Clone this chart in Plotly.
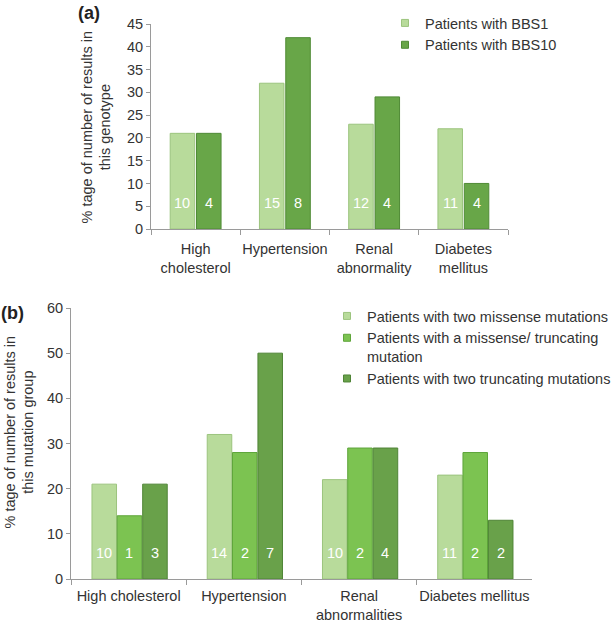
import plotly.graph_objects as go

# ---------------- data ----------------
cats_a = ["High<br>cholesterol", "Hypertension", "Renal<br>abnormality", "Diabetes<br>mellitus"]
bbs1_pct = [21, 32, 23, 22]
bbs10_pct = [21, 42, 29, 10]
bbs1_n = [10, 15, 12, 11]
bbs10_n = [4, 8, 4, 4]

cats_b = ["High cholesterol", "Hypertension", "Renal<br>abnormalities", "Diabetes mellitus"]
mis_mis_pct = [21, 32, 22, 23]
mis_trunc_pct = [14, 28, 29, 28]
trunc_trunc_pct = [21, 50, 29, 13]
mis_mis_n = [10, 14, 10, 11]
mis_trunc_n = [1, 2, 2, 2]
trunc_trunc_n = [3, 7, 4, 2]

names_a = ["Patients with BBS1", "Patients with BBS10"]
names_b = ["Patients with two missense mutations",
           "Patients with a missense/ truncating<br>mutation",
           "Patients with two truncating mutations"]

# ---------------- style ----------------
OFF = 0                      # body margin is removed below
W, H = 615 - OFF, 622 - OFF
FONT = "Liberation Sans, Arial, Helvetica, sans-serif"
FS = 14.5
TXT = "#333333"
AX = "#9a9a9a"
LIGHT = "#b8db9b"
LIGHT_L = "#9cc47e"
DARK = "#68a648"
DARK_L = "#4f8a35"
MID = "#7cc351"
MID_L = "#5ea53a"
DARK_B = "#69a14a"
DARK_B_L = "#4f8436"

def px(x):
    return (x - OFF) / W

def py(y):
    return 1 - (y - OFF) / H

ax_a = dict(x0=151, x1=508, y0=24, y1=229)
ax_b = dict(x0=71, x1=532, y0=308, y1=579)

def dom_x(a):
    return [px(a["x0"]), px(a["x1"])]

def dom_y(a):
    return [py(a["y1"]), py(a["y0"])]

fig = go.Figure()

w_a = 0.275
off_a = [-0.285, 0.01]
series_a = [(bbs1_pct, bbs1_n, LIGHT, LIGHT_L), (bbs10_pct, bbs10_n, DARK, DARK_L)]
for (vals, ns, col, lc), off, nm in zip(series_a, off_a, names_a):
    fig.add_trace(go.Bar(x=cats_a, y=vals, width=w_a, offset=off,
                         marker=dict(color=col, line=dict(color=lc, width=1)),
                         xaxis="x", yaxis="y", showlegend=False, name=nm))
    fig.add_trace(go.Scatter(x=[None], y=[None], mode="markers", name=nm,
                             marker=dict(symbol="square", size=7, color=col,
                                         line=dict(color=lc, width=1)),
                             xaxis="x", yaxis="y", legend="legend"))

w_b = 0.213
off_b = [-0.318, -0.099, 0.122]
series_b = [(mis_mis_pct, mis_mis_n, LIGHT, LIGHT_L),
            (mis_trunc_pct, mis_trunc_n, MID, MID_L),
            (trunc_trunc_pct, trunc_trunc_n, DARK_B, DARK_B_L)]
for (vals, ns, col, lc), off, nm in zip(series_b, off_b, names_b):
    fig.add_trace(go.Bar(x=cats_b, y=vals, width=w_b, offset=off,
                         marker=dict(color=col, line=dict(color=lc, width=1)),
                         xaxis="x2", yaxis="y2", showlegend=False, name=nm))
    fig.add_trace(go.Scatter(x=[None], y=[None], mode="markers", name=nm,
                             marker=dict(symbol="square", size=7, color=col,
                                         line=dict(color=lc, width=1)),
                             xaxis="x2", yaxis="y2", legend="legend2"))

annotations = []
catw_a = (ax_a["x1"] - ax_a["x0"]) / len(cats_a)
for (vals, ns, col, lc), off in zip(series_a, off_a):
    for c, n in zip(cats_a, ns):
        annotations.append(dict(x=c, y=0, xref="x", yref="y", text=str(n),
                                showarrow=False, yanchor="middle",
                                xshift=(off + w_a / 2) * catw_a, yshift=26,
                                font=dict(color="white", size=FS, family=FONT)))
catw_b = (ax_b["x1"] - ax_b["x0"]) / len(cats_b)
for (vals, ns, col, lc), off in zip(series_b, off_b):
    for c, n in zip(cats_b, ns):
        annotations.append(dict(x=c, y=0, xref="x2", yref="y2", text=str(n),
                                showarrow=False, yanchor="middle",
                                xshift=(off + w_b / 2) * catw_b, yshift=26,
                                font=dict(color="white", size=FS, family=FONT)))

annotations.append(dict(x=px(95.5), y=py(127), xref="paper", yref="paper",
                        text="% tage of number of results in<br>this genotype",
                        textangle=-90, showarrow=False, xanchor="center", yanchor="middle",
                        font=dict(size=FS, color=TXT, family=FONT)))
annotations.append(dict(x=px(18.5), y=py(432), xref="paper", yref="paper",
                        text="% tage of number of results in<br>this mutation group",
                        textangle=-90, showarrow=False, xanchor="center", yanchor="middle",
                        font=dict(size=FS, color=TXT, family=FONT)))
annotations.append(dict(x=px(76), y=py(13), xref="paper", yref="paper",
                        text="<b>(a)</b>", showarrow=False, xanchor="left", yanchor="middle",
                        font=dict(size=18, color="#222222", family=FONT)))
annotations.append(dict(x=px(-1), y=py(313), xref="paper", yref="paper",
                        text="<b>(b)</b>", showarrow=False, xanchor="left", yanchor="middle",
                        font=dict(size=18, color="#222222", family=FONT)))

xcommon = dict(type="category", showgrid=False, showline=True, linecolor=AX, linewidth=1,
               ticks="outside", tickson="boundaries", ticklen=5, tickcolor=AX,
               tickfont=dict(size=FS, color=TXT, family=FONT), zeroline=False,
               tickangle=0, automargin=False, fixedrange=True)
ycommon = dict(showgrid=False, showline=True, linecolor=AX, linewidth=1,
               ticks="outside", ticklen=4, tickcolor=AX, zeroline=False,
               automargin=False,
               tickfont=dict(size=FS, color=TXT, family=FONT))

fig.update_layout(
    width=W, height=H,
    margin=dict(l=0, r=0, t=0, b=0, autoexpand=False),
    paper_bgcolor="white", plot_bgcolor="white",
    barmode="overlay",
    font=dict(family=FONT, color=TXT, size=FS),
    xaxis=dict(domain=dom_x(ax_a), anchor="y", categoryorder="array", categoryarray=cats_a,
               range=[-0.5, 3.5], ticklabelstandoff=7, **xcommon),
    yaxis=dict(domain=dom_y(ax_a), anchor="x", range=[0, 45], dtick=5, **ycommon),
    xaxis2=dict(domain=dom_x(ax_b), anchor="y2", categoryorder="array", categoryarray=cats_b,
                range=[-0.5, 3.5], ticklabelstandoff=4, **xcommon),
    yaxis2=dict(domain=dom_y(ax_b), anchor="x2", range=[0, 60], dtick=10, **ycommon),
    legend=dict(x=px(385), y=py(7), xanchor="left", yanchor="top",
                bgcolor="rgba(0,0,0,0)", font=dict(size=FS, color=TXT, family=FONT),
                tracegroupgap=0, itemwidth=30),
    legend2=dict(x=px(327), y=py(300), xanchor="left", yanchor="top", valign="top",
                 bgcolor="rgba(0,0,0,0)", font=dict(size=FS, color=TXT, family=FONT),
                 tracegroupgap=0, itemwidth=30),
    annotations=annotations,
)

fig.write_html("out.html", config={"displayModeBar": False},
               post_script="document.body.style.margin='0';document.body.style.padding='0';")
